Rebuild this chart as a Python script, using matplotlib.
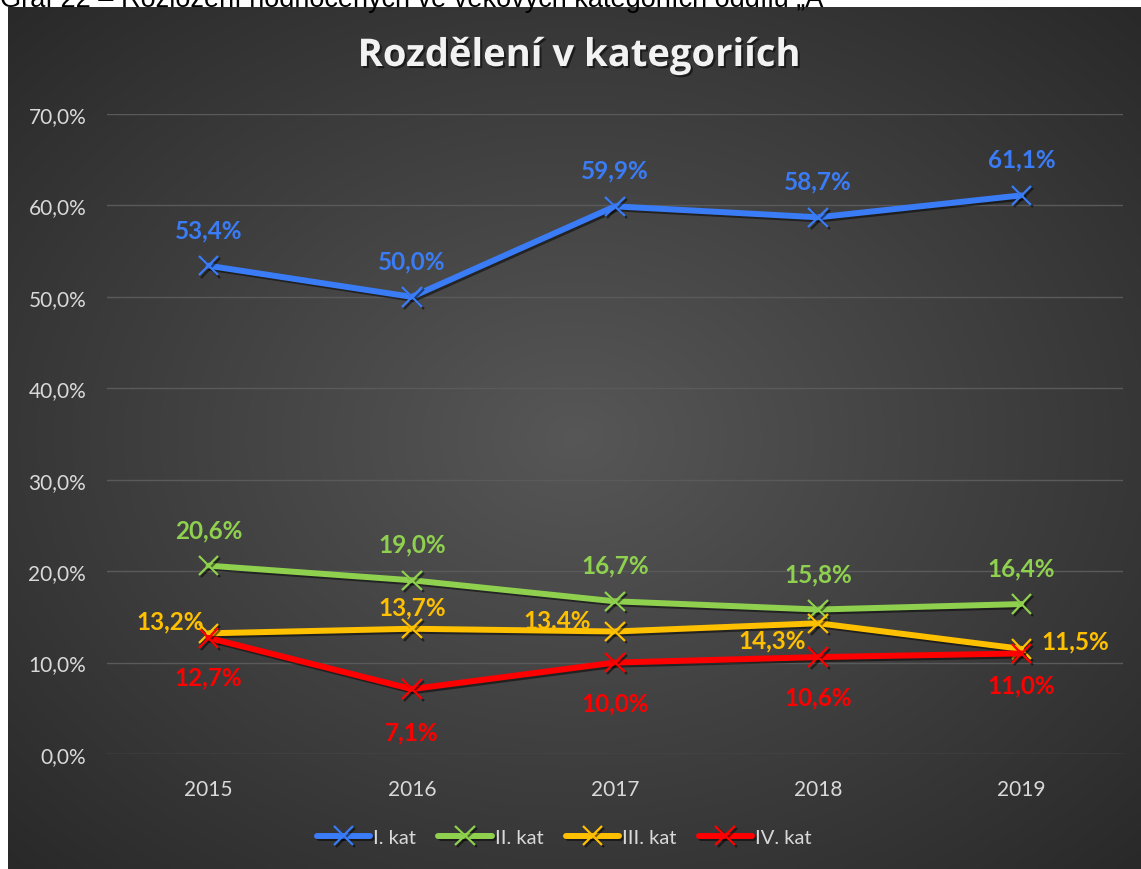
import numpy as np
import matplotlib.pyplot as plt
import matplotlib.patheffects as pe

years = ["2015", "2016", "2017", "2018", "2019"]
kat1 = [53.4, 50.0, 59.9, 58.7, 61.1]
kat2 = [20.6, 19.0, 16.7, 15.8, 16.4]
kat3 = [13.2, 13.7, 13.4, 14.3, 11.5]
kat4 = [12.7, 7.1, 10.0, 10.6, 11.0]
names = ["I. kat", "II. kat", "III. kat", "IV. kat"]
colors = ["#3a7cf6", "#8fd14f", "#ffc000", "#ff0000"]
yticks = [0, 10, 20, 30, 40, 50, 60, 70]

# label offsets (points) per series / point
offs = [
    [(0, 26)] * 5,
    [(0, 26)] * 5,
    [(-28, 9), (0, 16), (-42, 8), (-33, -12), (39, 6)],
    [(0, -28), (0, -31), (0, -29), (0, -29), (0, -23)],
]

W, H = 1141, 870
fig = plt.figure(figsize=(W / 100, H / 100), dpi=100)
fig.patch.set_facecolor("white")

# cut-off caption above the chart
fig.text(0.0, 1 - 7 / H, "Graf 22 – Rozložení hodnocených ve věkových kategoriích oddílu „A“",
         fontsize=19.5, family="Liberation Sans", color="black", va="baseline", ha="left")

# dark radial gradient background
bg = fig.add_axes([8 / W, 0, 1 - 8 / W, 1 - 8 / H], zorder=1)
yy, xx = np.mgrid[0:1:400j, 0:1:520j]
r = np.sqrt(((xx - 0.5) / 0.75) ** 2 + ((yy - 0.5) / 0.75) ** 2)
g = 0.34 - 0.19 * np.clip(r, 0, 1)
bg.imshow(np.dstack([g, g, g]), extent=[0, 1, 0, 1], aspect="auto")
bg.axis("off")

ax = fig.add_axes([107 / W, 1 - 755 / H, (1123 - 107) / W, (755 - 115) / H], zorder=2)
ax.patch.set_alpha(0)
x = np.arange(len(years))
series = [kat1, kat2, kat3, kat4]
for vals, c, nm, off in zip(series, colors, names, offs):
    ax.plot(x, vals, color=c, lw=4.3, marker="x", ms=14, mew=1.6, label=nm,
            solid_capstyle="round", zorder=3,
            path_effects=[pe.SimpleLineShadow(offset=(1.5, -1.5), shadow_color="black", alpha=0.5),
                          pe.Normal()])
    for xi, v, o in zip(x, vals, off):
        ax.annotate(f"{v:.1f}%".replace(".", ","), (xi, v), xytext=o, textcoords="offset points",
                    ha="center", va="center", color=c, fontsize=17.5, fontweight="bold",
                    family="Lato", zorder=4)

ax.set_xlim(-0.5, 4.5)
ax.set_ylim(0, 70)
ax.set_yticks(yticks)
ax.set_yticklabels([f"{t},0%" for t in yticks])
ax.set_xticks(x)
ax.set_xticklabels(years)
ax.grid(axis="y", color="#5a5a5a", lw=1)
ax.set_axisbelow(True)
for s in ax.spines.values():
    s.set_visible(False)
ax.tick_params(length=0, colors="#d9d9d9", labelsize=15)
ax.tick_params(axis="x", pad=18)
ax.tick_params(axis="y", pad=15)
for t in ax.get_xticklabels() + ax.get_yticklabels():
    t.set_family("Lato")

fig.text(0.508, 1 - 57 / H, "Rozdělení v kategoriích", ha="center", va="center",
         fontsize=27.5, fontweight="bold", color="#f2f2f2", family="Open Sans", zorder=3,
         path_effects=[pe.withSimplePatchShadow(offset=(1.5, -1.5), shadow_rgbFace="black", alpha=0.5)])

leg = ax.legend(loc="center", bbox_to_anchor=(0.45, (755 - 838) / (755 - 115)), ncol=4,
                frameon=False, handlelength=2.65, handletextpad=0.15,
                columnspacing=1.1, labelcolor="#d9d9d9", prop={"family": "Lato", "size": 14.5})

fig.savefig("out.png", dpi=100)
